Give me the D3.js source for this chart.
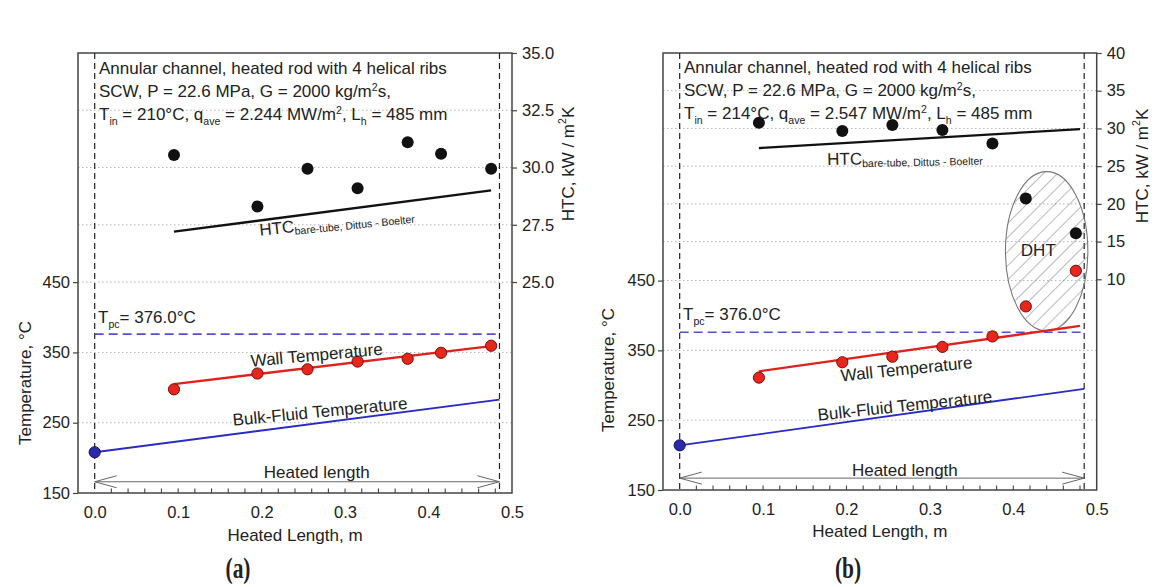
<!DOCTYPE html>
<html><head><meta charset="utf-8">
<script src="https://cdn.jsdelivr.net/npm/d3@7"></script>
<style>
body{margin:0;background:#fff}
svg{display:block}
text{font-family:"Liberation Sans",Arial,sans-serif;fill:#222}
</style>
</head><body>
<svg id="chart" width="1161" height="587"></svg>
<script>
// ---------------- data ----------------
const xPositions = [0.095, 0.195, 0.255, 0.315, 0.375, 0.415, 0.475];   // m
const htcA  = [30.55, 28.3, 29.95, 29.1, 31.1, 30.6, 29.95];          // kW/m2K
const wallA = [297.5, 320, 326, 337, 341, 349.5, 359.5];              // °C
const htcB  = [30.75, 29.65, 30.45, 29.8, 28.0, 20.7, 16.1];
const wallB = [311, 333, 341, 355, 370, 413, 464];

const bulkFitA = [[0, 208], [0.485, 283]];
const wallFitA = [[0.095, 305], [0.475, 359]];
const htcFitA  = [[0.095, 27.2], [0.475, 29.0]];
const bulkFitB = [[0, 214], [0.485, 295]];
const wallFitB = [[0.095, 320], [0.48, 385]];
const htcFitB  = [[0.095, 27.4], [0.48, 29.9]];

const tpc = 376.0;
const heatedLength = 0.485;
const xTicks = [0, 0.1, 0.2, 0.3, 0.4, 0.5];
const tempTicks = [150, 250, 350, 450];
const htcTicksA = [25, 27.5, 30, 32.5, 35];
const htcTicksB = [10, 15, 20, 25, 30, 35, 40];

// ---------------- drawing ----------------
const svg = d3.select('#chart');
const defs = svg.append('defs');
const pat = defs.append('pattern').attr('id', 'hatch').attr('patternUnits', 'userSpaceOnUse')
  .attr('width', 10).attr('height', 10).attr('patternTransform', 'rotate(45)');
pat.append('line').attr('x1', 0).attr('y1', -2).attr('x2', 0).attr('y2', 12)
  .attr('stroke', '#777').attr('stroke-width', 1);

function rich(textSel, parts, size) {
  let shift = 0;
  parts.forEach(([t, m]) => {
    const ts = textSel.append('tspan').text(t);
    let target = 0;
    if (m === 'sub') { target = size * 0.28; ts.attr('font-size', size * 0.62); }
    else if (m === 'sup') { target = -size * 0.38; ts.attr('font-size', size * 0.62); }
    if (target - shift !== 0) ts.attr('dy', target - shift);
    shift = target;
  });
}

function panel(cfg) {
  const g = svg.append('g');
  const x = d3.scaleLinear().domain([-0.02, 0.5]).range([cfg.left, cfg.right]);
  const yT = d3.scaleLinear().domain([150, 776]).range([cfg.bottom, cfg.top]);
  const yH = d3.scaleLinear().domain(cfg.htcDomain).range([cfg.bottom, cfg.top]);
  const fs = 16.5;

  // grid lines
  const gridColor = '#b5b5b5';
  g.selectAll(null).data(tempTicks.slice(1)).join('line')
    .attr('x1', cfg.left).attr('x2', cfg.right).attr('y1', d => yT(d)).attr('y2', d => yT(d))
    .attr('stroke', gridColor).attr('stroke-dasharray', '1.5,2.5');
  g.selectAll(null).data(cfg.htcTicks.slice(1, -1)).join('line')
    .attr('x1', cfg.left).attr('x2', cfg.right).attr('y1', d => yH(d)).attr('y2', d => yH(d))
    .attr('stroke', gridColor).attr('stroke-dasharray', '1.5,2.5');

  // box
  g.append('rect').attr('x', cfg.left).attr('y', cfg.top)
    .attr('width', cfg.right - cfg.left).attr('height', cfg.bottom - cfg.top)
    .attr('fill', 'none').attr('stroke', '#444').attr('stroke-width', 1.5);

  // axes
  const axL = g.append('g').attr('transform', `translate(${cfg.left},0)`)
    .call(d3.axisLeft(yT).tickValues(tempTicks).tickSize(5).tickPadding(3));
  const axR = g.append('g').attr('transform', `translate(${cfg.right},0)`)
    .call(d3.axisRight(yH).tickValues(cfg.htcTicks).tickSize(5).tickPadding(5).tickFormat(cfg.htcFmt));
  const axB = g.append('g').attr('transform', `translate(0,${cfg.bottom})`)
    .call(d3.axisBottom(x).tickValues(xTicks).tickSize(0).tickPadding(13).tickFormat(d3.format('.1f')));
  [axL, axR, axB].forEach(a => {
    a.select('.domain').remove();
    a.selectAll('line').attr('stroke', '#444').attr('stroke-width', 1.2);
    a.selectAll('text').attr('font-size', fs).attr('fill', '#222')
      .attr('font-family', '"Liberation Sans",Arial,sans-serif');
  });
  // inward minor ticks on x
  const minor = d3.range(0.02, 0.49, 0.02);
  g.selectAll(null).data(minor).join('line')
    .attr('x1', d => x(d)).attr('x2', d => x(d)).attr('y1', cfg.bottom).attr('y2', cfg.bottom - 4.5)
    .attr('stroke', '#444').attr('stroke-width', 1.1);

  // heated-length verticals
  g.selectAll(null).data([0, heatedLength]).join('line')
    .attr('x1', d => x(d)).attr('x2', d => x(d)).attr('y1', cfg.top).attr('y2', cfg.bottom)
    .attr('stroke', '#222').attr('stroke-width', 1.2).attr('stroke-dasharray', '6,4');

  // Tpc line
  g.append('line').attr('x1', x(0)).attr('x2', x(heatedLength)).attr('y1', yT(tpc)).attr('y2', yT(tpc))
    .attr('stroke', '#5252c8').attr('stroke-width', 1.6).attr('stroke-dasharray', '9,5');
  const tl = g.append('text').attr('x', x(0.004)).attr('y', yT(cfg.tpcLabelT)).attr('font-size', 17);
  rich(tl, [['T', ''], ['pc', 'sub'], ['= 376.0°C', '']], 17);

  // DHT ellipse
  if (cfg.dht) {
    const d = cfg.dht;
    g.append('ellipse').attr('cx', x(d.cx)).attr('cy', yT(d.cy))
      .attr('rx', x(d.cx + d.rx) - x(d.cx)).attr('ry', yT(d.cy - d.ry) - yT(d.cy))
      .attr('fill', 'url(#hatch)').attr('stroke', '#777').attr('stroke-width', 1.1);
    g.append('text').attr('x', x(d.lx)).attr('y', yT(d.ly)).attr('text-anchor', 'middle')
      .attr('dominant-baseline', 'central').attr('font-size', 17).text('DHT');
  }

  // fit lines
  const lineT = d3.line().x(d => x(d[0])).y(d => yT(d[1]));
  const lineH = d3.line().x(d => x(d[0])).y(d => yH(d[1]));
  g.append('path').attr('d', lineT(cfg.bulkFit)).attr('stroke', '#2a2ac4').attr('stroke-width', 1.8).attr('fill', 'none');
  g.append('path').attr('d', lineT(cfg.wallFit)).attr('stroke', '#e0221c').attr('stroke-width', 2.3).attr('fill', 'none');
  g.append('path').attr('d', lineH(cfg.htcFit)).attr('stroke', '#111').attr('stroke-width', 2.3).attr('fill', 'none');

  // points
  g.selectAll(null).data(cfg.htc).join('circle')
    .attr('cx', (d, i) => x(xPositions[i])).attr('cy', d => yH(d)).attr('r', 6).attr('fill', '#111');
  g.selectAll(null).data(cfg.wall).join('circle')
    .attr('cx', (d, i) => x(xPositions[i])).attr('cy', d => yT(d)).attr('r', 5.6)
    .attr('fill', '#e8261c').attr('stroke', '#7a0c0c').attr('stroke-width', 1);
  g.append('circle').attr('cx', x(cfg.bulkFit[0][0])).attr('cy', yT(cfg.bulkFit[0][1])).attr('r', 5.6)
    .attr('fill', '#2b2baa').attr('stroke', '#121260').attr('stroke-width', 1);

  // curve labels
  const rot = (sel, px, py, ang) => sel.attr('transform', `translate(${px},${py}) rotate(${ang})`)
    .attr('text-anchor', 'middle').attr('dominant-baseline', 'central');
  rot(g.append('text').attr('font-size', 17).text('Wall Temperature'), x(cfg.wallLabel[0]), yT(cfg.wallLabel[1]), cfg.wallLabel[2]);
  rot(g.append('text').attr('font-size', 17).text('Bulk-Fluid Temperature'), x(cfg.bulkLabel[0]), yT(cfg.bulkLabel[1]), cfg.bulkLabel[2]);
  const ht = rot(g.append('text').attr('font-size', 17), x(cfg.htcLabel[0]), yH(cfg.htcLabel[1]), cfg.htcLabel[2]);
  rich(ht, [['HTC', ''], ['bare-tube, Dittus - Boelter', 'sub']], 17);

  // heated length arrow
  const ay = yT(cfg.arrowT), x0 = x(0), x1 = x(heatedLength);
  g.append('line').attr('x1', x0).attr('x2', x1).attr('y1', ay).attr('y2', ay).attr('stroke', '#666').attr('stroke-width', 1);
  g.append('polyline').attr('points', `${x0 + 22},${ay - 6} ${x0},${ay} ${x0 + 22},${ay + 6}`).attr('fill', 'none').attr('stroke', '#666');
  g.append('polyline').attr('points', `${x1 - 22},${ay - 6} ${x1},${ay} ${x1 - 22},${ay + 6}`).attr('fill', 'none').attr('stroke', '#666');
  g.append('text').attr('x', x(cfg.hlLabel[0])).attr('y', yT(cfg.hlLabel[1])).attr('text-anchor', 'middle')
    .attr('dominant-baseline', 'central').attr('font-size', 17).text('Heated length');

  // annotation block
  cfg.notes.forEach((parts, i) => {
    const t = g.append('text').attr('x', cfg.noteX).attr('y', cfg.noteY + i * 23).attr('font-size', 17);
    rich(t, parts, 17);
  });

  // axis titles
  g.append('text').attr('x', (cfg.left + cfg.right) / 2).attr('y', cfg.xTitleY).attr('text-anchor', 'middle')
    .attr('font-size', 17).text('Heated Length, m');
  g.append('text').attr('transform', `translate(${cfg.yLTitle[0]},${cfg.yLTitle[1]}) rotate(-90)`)
    .attr('text-anchor', 'middle').attr('dominant-baseline', 'central').attr('font-size', 17).text('Temperature, °C');
  const rt = g.append('text').attr('transform', `translate(${cfg.yRTitle[0]},${cfg.yRTitle[1]}) rotate(-90)`)
    .attr('text-anchor', 'middle').attr('dominant-baseline', 'central').attr('font-size', 17);
  rich(rt, [['HTC, kW / m', ''], ['2', 'sup'], ['K', '']], 17);

  // panel letter
  svg.append('text').attr('transform', `translate(${cfg.letterX},578) scale(0.74,1)`)
    .attr('text-anchor', 'middle').attr('font-family', '"Liberation Serif","Times New Roman",serif')
    .attr('font-weight', 'bold').attr('font-size', 29).style('font-family', '"Liberation Serif",serif')
    .text(cfg.letter);
}

panel({
  left: 78, right: 512, top: 53, bottom: 493,
  htcDomain: [15.79, 35], htcTicks: htcTicksA, htcFmt: d3.format('.1f'),
  htc: htcA, wall: wallA, bulkFit: bulkFitA, wallFit: wallFitA, htcFit: htcFitA,
  tpcLabelT: 392, arrowT: 166, hlLabel: [0.266, 179],
  wallLabel: [0.266, 346, -5.2], bulkLabel: [0.27, 265.5, -5.6], htcLabel: [0.29, 27.63, -5.8],
  notes: [
    [['Annular channel, heated rod with 4 helical ribs', '']],
    [['SCW, P = 22.6 MPa, G = 2000 kg/m', ''], ['2', 'sup'], ['s,', '']],
    [['T', ''], ['in', 'sub'], [' = 210°C, q', ''], ['ave', 'sub'], [' = 2.244 MW/m', ''], ['2', 'sup'], [', L', ''], ['h', 'sub'], [' = 485 mm', '']]
  ],
  noteX: 99, noteY: 74, xTitleY: 541, yLTitle: [25, 383], yRTitle: [568, 164],
  letter: '(a)', letterX: 238
});

panel({
  left: 663, right: 1096.7, top: 53, bottom: 490,
  htcDomain: [-17.93, 40], htcTicks: htcTicksB, htcFmt: d3.format('d'),
  htc: htcB, wall: wallB, bulkFit: bulkFitB, wallFit: wallFitB, htcFit: htcFitB,
  tpcLabelT: 393, arrowT: 167, hlLabel: [0.27, 177.6],
  wallLabel: [0.272, 323, -5.8], bulkLabel: [0.27, 270.5, -6.1], htcLabel: [0.27, 26.15, -1.2],
  dht: {cx: 0.44, cy: 492, rx: 0.0494, ry: 114, lx: 0.43, ly: 493},
  notes: [
    [['Annular channel, heated rod with 4 helical ribs', '']],
    [['SCW, P = 22.6 MPa, G = 2000 kg/m', ''], ['2', 'sup'], ['s,', '']],
    [['T', ''], ['in', 'sub'], [' = 214°C, q', ''], ['ave', 'sub'], [' = 2.547 MW/m', ''], ['2', 'sup'], [', L', ''], ['h', 'sub'], [' = 485 mm', '']]
  ],
  noteX: 684, noteY: 73, xTitleY: 537, yLTitle: [608, 370], yRTitle: [1142, 166],
  letter: '(b)', letterX: 848
});
</script>
</body></html>
